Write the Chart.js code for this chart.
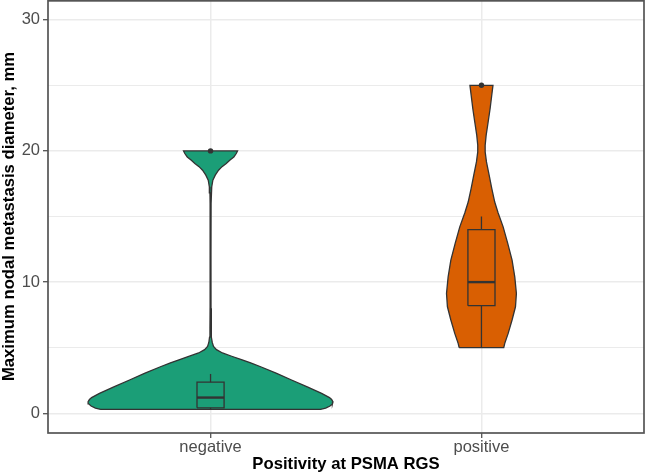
<!DOCTYPE html>
<html><head><meta charset="utf-8">
<script src="https://cdn.jsdelivr.net/npm/chart.js@4"></script>
<style>html,body{margin:0;padding:0;background:#fff}#wrap{width:646px;height:474px}</style>
</head><body><div id="wrap"><canvas id="c" width="646" height="474"></canvas></div>
<script>
// ---- data ----
const categories = ['negative', 'positive'];
const yMajorTicks = [0, 10, 20, 30];
const yMinorTicks = [5, 15, 25];

// violin outlines: y value and half-width (category units)
const negViolinY = [0.30, 0.40, 0.56, 0.72, 0.88, 1.05, 1.20, 1.52, 2.03, 2.54, 3.05, 3.55, 3.85, 4.10, 4.35, 4.60, 4.85, 5.10, 5.40, 5.80, 6.50, 8.00, 12.0, 16.0, 16.8, 17.26, 17.77, 18.15, 18.53, 18.8, 19.04, 19.3, 19.54, 19.8, 20.0];
const negViolinHalf = [0.406, 0.425, 0.441, 0.450, 0.452, 0.447, 0.439, 0.410, 0.355, 0.299, 0.244, 0.185, 0.148, 0.114, 0.078, 0.044, 0.022, 0.011, 0.0063, 0.0037, 0.0022, 0.0017, 0.0015, 0.0017, 0.0022, 0.0044, 0.0085, 0.0174, 0.0295, 0.0425, 0.058, 0.072, 0.086, 0.095, 0.0997];
const posViolinY = [5.0, 5.33, 6.09, 7.11, 8.12, 9.14, 10.4, 11.68, 12.95, 14.21, 15.3, 16.1, 17.14, 18.15, 19.16, 19.92, 20.43, 21.2, 22.2, 23.23, 24.24, 25.0];
const posViolinHalf = [0.0823, 0.086, 0.0986, 0.113, 0.1256, 0.129, 0.123, 0.113, 0.097, 0.080, 0.061, 0.049, 0.038, 0.0284, 0.0185, 0.0137, 0.0137, 0.0174, 0.0247, 0.032, 0.038, 0.0425];

// box stats: [lower whisker, q1, median, q3, upper whisker]
const negBox = [0.3, 0.42, 1.2, 2.37, 3.0];
const posBox = [5.0, 8.2, 10.0, 14.0, 15.0];
const negOutliers = [20];
const posOutliers = [25];

// ---- styling ----
const fills = ['#1B9E77', '#D95F02'];
const lineCol = '#333333';
const boxHalf = 0.05;
const FONT = "'Liberation Sans', Arial, Helvetica, sans-serif";

function outline(center, ys, hws) {
  const left = ys.map((y, i) => ({x: center - hws[i], y}));
  const right = ys.map((y, i) => ({x: center + hws[i], y})).reverse();
  return left.concat(right, [left[0]]);
}
function boxSets(center, s) {
  const [lw, q1, med, q3, uw] = s;
  const base = {showLine: true, pointRadius: 0, borderColor: lineCol, fill: false, order: 1};
  return [
    Object.assign({}, base, {borderWidth: 1.3, data: [{x: center - boxHalf, y: q1}, {x: center + boxHalf, y: q1}, {x: center + boxHalf, y: q3}, {x: center - boxHalf, y: q3}, {x: center - boxHalf, y: q1}]}),
    Object.assign({}, base, {borderWidth: 2.4, data: [{x: center - boxHalf, y: med}, {x: center + boxHalf, y: med}]}),
    Object.assign({}, base, {borderWidth: 1.3, data: [{x: center, y: lw}, {x: center, y: q1}]}),
    Object.assign({}, base, {borderWidth: 1.3, data: [{x: center, y: q3}, {x: center, y: uw}]})
  ];
}

const violinData = [[negViolinY, negViolinHalf], [posViolinY, posViolinHalf]];
const boxData = [negBox, posBox];
const outlierData = [negOutliers, posOutliers];

const datasets = [];
categories.forEach((c, i) => {
  const center = i + 1;
  datasets.push({
    data: outline(center, violinData[i][0], violinData[i][1]),
    showLine: true, pointRadius: 0, borderColor: lineCol, borderWidth: 1.3,
    backgroundColor: fills[i], fill: 'shape', tension: 0, order: 3
  });
  boxSets(center, boxData[i]).forEach(d => datasets.push(d));
  datasets.push({
    data: outlierData[i].map(v => ({x: center, y: v})),
    showLine: false, pointRadius: 2.7, pointBackgroundColor: lineCol, pointBorderWidth: 0, order: 0
  });
});

const framePlugin = {
  id: 'frame',
  afterDraw(chart) {
    const {ctx, chartArea: a} = chart;
    ctx.save();
    ctx.strokeStyle = '#555555';
    ctx.lineWidth = 1.7;
    ctx.strokeRect(a.left, a.top + 0.85, a.right - a.left, a.bottom - a.top - 0.85);
    ctx.restore();
  }
};

const yTicks = yMajorTicks.concat(yMinorTicks).sort((a, b) => a - b);
const isMajor = v => yMajorTicks.indexOf(v) >= 0;

new Chart(document.getElementById('c'), {
  type: 'scatter',
  data: {datasets},
  options: {
    responsive: false, animation: false, devicePixelRatio: 1,
    layout: {autoPadding: false, padding: {top: 0, right: 2, bottom: 0, left: 0}},
    plugins: {legend: {display: false}, tooltip: {enabled: false}},
    scales: {
      x: {
        type: 'linear', min: 0.4, max: 2.6,
        afterBuildTicks: s => { s.ticks = categories.map((c, i) => ({value: i + 1})); },
        afterFit: s => { s.height = 41; s.paddingLeft = 0; s.paddingRight = 0; },
        ticks: {
          callback: v => categories[Math.round(v) - 1] || '',
          color: '#4D4D4D', font: {family: FONT, size: 16.5}, padding: 0, maxRotation: 0, autoSkip: false
        },
        grid: {color: '#EBEBEB', lineWidth: 1.5, tickColor: '#333333', tickLength: 5, tickWidth: 1.1},
        border: {display: false},
        title: {display: true, text: 'Positivity at PSMA RGS', color: '#000',
          font: {family: FONT, size: 16.7, weight: 'bold', lineHeight: 1.1}, padding: 0}
      },
      y: {
        type: 'linear', min: -1.5, max: 31.5,
        afterBuildTicks: s => { s.ticks = yTicks.map(v => ({value: v})); },
        afterFit: s => { s.width = 48; s.paddingTop = 0; s.paddingBottom = 0; },
        ticks: {
          callback: v => isMajor(v) ? String(v) : '',
          color: '#4D4D4D', font: {family: FONT, size: 16.5}, padding: 3, autoSkip: false
        },
        grid: {
          color: '#EBEBEB',
          lineWidth: ctx => (ctx.tick && isMajor(ctx.tick.value)) ? 1.5 : 1.1,
          tickColor: ctx => (ctx.tick && isMajor(ctx.tick.value)) ? '#333333' : 'rgba(0,0,0,0)',
          tickLength: 5, tickWidth: 1.1
        },
        border: {display: false},
        title: {display: true, text: 'Maximum nodal metastasis diameter, mm', color: '#000',
          font: {family: FONT, size: 16.7, weight: 'bold', lineHeight: 1.1}, padding: 0}
      }
    }
  },
  plugins: [framePlugin]
});
</script></body></html>
